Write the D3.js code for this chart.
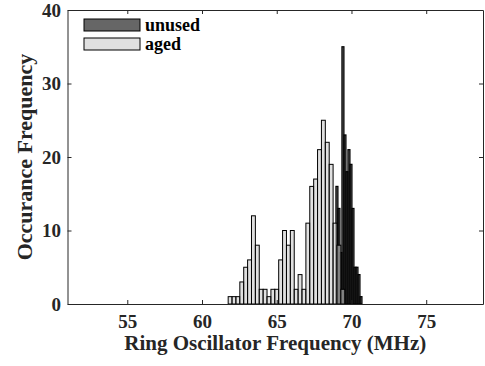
<!DOCTYPE html>
<html>
<head>
<meta charset="utf-8">
<script src="https://cdn.jsdelivr.net/npm/d3@7/dist/d3.min.js"></script>
<style>
  body { margin: 0; background: #fff; }
  .chart { display: block; font-family: "Liberation Serif", "Times New Roman", serif; font-weight: bold; }
  .axis path, .axis line { stroke: #262626; }
</style>
</head>
<body>
<svg class="chart"></svg>
<script>
// histogram bins
let agedStart = 61.75, agedBinWidth = 0.26;
let agedCounts = [1, 1, 1, 3, 5, 6, 12, 8, 2, 2, 1, 2, 2, 6, 10, 8, 10, 2, 4, 2, 11, 16, 17, 21, 25, 22, 19, 11, 8, 2];
let unusedStart = 68.96, unusedBinWidth = 0.134;
let unusedCounts = [16, 13, 7, 35, 23, 18, 21, 19, 13, 5, 5, 4, 1];
let seriesNames = ["unused", "aged"];
let xTicks = [55, 60, 65, 70, 75];
let yTicks = [0, 10, 20, 30, 40];
let xLabel = "Ring Oscillator Frequency (MHz)";
let yLabel = "Occurance Frequency";

let width = 485, height = 366;
let plotLeft = 67.5, plotRight = 483, plotTop = 10, plotBottom = 304;
let serif = "'Liberation Serif', 'Times New Roman', serif";

function toBins(start, w, counts) {
  return counts.map(function(n, i) { return {x0: start + i * w, x1: start + (i + 1) * w, n: n}; });
}
let unusedBins = toBins(unusedStart, unusedBinWidth, unusedCounts);
let agedBins = toBins(agedStart, agedBinWidth, agedCounts);

let x = d3.scaleLinear().domain([51, 78.8]).range([plotLeft, plotRight]);
let y = d3.scaleLinear().domain([0, 40]).range([plotBottom, plotTop]);

let svg = d3.select(".chart")
  .attr("width", width)
  .attr("height", height);

// unused first, aged drawn over it (both semi transparent like matlab)
let colors = {unused: "#000000", aged: "#cbcbcb"};

svg.append("g").selectAll("rect")
  .data(unusedBins)
  .enter().append("rect")
  .attr("x", function(d) { return x(d.x0); })
  .attr("width", function(d) { return x(d.x1) - x(d.x0); })
  .attr("y", function(d) { return y(d.n); })
  .attr("height", function(d) { return y(0) - y(d.n); })
  .attr("fill", colors.unused)
  .attr("fill-opacity", 0.6)
  .attr("stroke", "#000")
  .attr("stroke-width", 1.2);

svg.append("g").selectAll("rect")
  .data(agedBins.filter(function(d) { return d.n > 0; }))
  .enter().append("rect")
  .attr("x", function(d) { return x(d.x0); })
  .attr("width", function(d) { return x(d.x1) - x(d.x0); })
  .attr("y", function(d) { return y(d.n); })
  .attr("height", function(d) { return y(0) - y(d.n); })
  .attr("fill", colors.aged)
  .attr("fill-opacity", 0.6)
  .attr("stroke", "#000")
  .attr("stroke-width", 1);

// box axes, ticks pointing inward
svg.append("g")
  .attr("class", "axis")
  .attr("transform", "translate(0," + plotBottom + ")")
  .call(d3.axisBottom(x).tickValues(xTicks).tickSizeInner(-4).tickSizeOuter(0).tickPadding(10.5));

svg.append("g")
  .attr("class", "axis")
  .attr("transform", "translate(0," + plotTop + ")")
  .call(d3.axisTop(x).tickValues(xTicks).tickSizeInner(-4).tickSizeOuter(0).tickFormat(""));

svg.append("g")
  .attr("class", "axis")
  .attr("transform", "translate(" + plotLeft + ",0)")
  .call(d3.axisLeft(y).tickValues(yTicks).tickSizeInner(-4).tickSizeOuter(0).tickPadding(6.5));

svg.append("g")
  .attr("class", "axis")
  .attr("transform", "translate(" + plotRight + ",0)")
  .call(d3.axisRight(y).tickValues(yTicks).tickSizeInner(-4).tickSizeOuter(0).tickFormat(""));

// d3 puts sans-serif on the axis groups, override it
svg.selectAll(".axis")
  .attr("font-family", serif)
  .attr("font-size", 19)
  .attr("font-weight", "bold");
svg.selectAll(".axis text").attr("fill", "#262626");

svg.append("text")
  .attr("x", (plotLeft + plotRight) / 2)
  .attr("y", 350)
  .attr("text-anchor", "middle")
  .attr("fill", "#262626")
  .style("font-size", "21px")
  .text(xLabel);

svg.append("text")
  .attr("transform", "translate(32," + (plotTop + plotBottom) / 2 + ") rotate(-90)")
  .attr("text-anchor", "middle")
  .attr("fill", "#262626")
  .style("font-size", "22px")
  .text(yLabel);

// legend
let legend = svg.append("g").selectAll("g")
  .data(seriesNames)
  .enter().append("g")
  .attr("transform", function(d, i) { return "translate(84," + (19 + i * 19) + ")"; });

legend.append("rect")
  .attr("width", 56)
  .attr("height", 12)
  .attr("fill", function(d) { return colors[d]; })
  .attr("fill-opacity", 0.6)
  .attr("stroke", "#000")
  .attr("stroke-width", 1);

legend.append("text")
  .attr("x", 61)
  .attr("y", 12)
  .attr("fill", "#000")
  .style("font-size", "18px")
  .text(function(d) { return d; });
</script>
</body>
</html>
